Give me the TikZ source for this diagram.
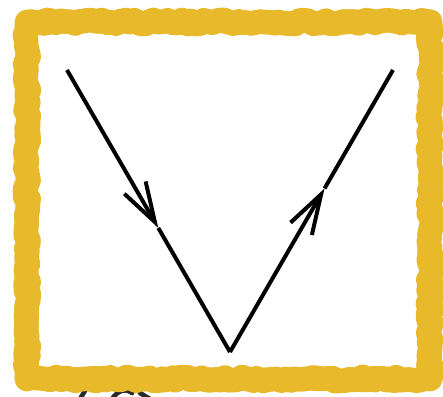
\documentclass[tikz,border=0pt]{standalone}
\usepackage{tikz}
\usetikzlibrary{arrows.meta}
\usetikzlibrary{calc}
\usetikzlibrary{decorations.pathmorphing}
\definecolor{framecolor}{HTML}{E8B92A}
\definecolor{inkcolor}{HTML}{2A2A2A}

\begin{document}
\begin{tikzpicture}[
            x=0.03cm, y=-0.03cm,
            line/.style={line width=3.4pt, line cap=butt},
            barb/.style={-{Straight Barb[length=34pt, width=21pt, line width=3.4pt]}},
            rough frame/.style={draw=framecolor, line width=21pt, line join=round,
                                decorate, decoration={random steps, segment length=4pt, amplitude=1.8pt}},
        ]

        \useasboundingbox (0,0) rectangle (443,397);

        % Partly hidden strokes below the frame
        \draw[inkcolor, line width=4pt, line cap=round] (80,399) -- (86,389);
        \draw[inkcolor, line width=4pt, line cap=round] (112,399) .. controls (118,390) and (126,388) .. (132,393);
        \draw[inkcolor, line width=4pt, line cap=round] (140,393) -- (150,399);

        % Yellow frame
        \pgfmathsetseed{7}
        \draw[rough frame] (27,22) -- (430,22) -- (430,379) -- (27,379) -- cycle;
        \pgfmathsetseed{19}
        \draw[rough frame, line width=17pt] (25,24) -- (432,20) -- (428,381) -- (29,377) -- cycle;

        % Points of the V
        \coordinate (top_left) at (67,70);
        \coordinate (bottom) at (230,352);
        \coordinate (top_right) at (393,70);
        \coordinate (mid_left) at ($(top_left)!0.56!(bottom)$);
        \coordinate (mid_right) at ($(bottom)!0.58!(top_right)$);

        % Left branch, arrow pointing down
        \draw[line, barb] (top_left) -- (mid_left);
        \draw[line] (mid_left) -- (bottom);

        % Right branch, arrow pointing up
        \draw[line, barb] (bottom) -- (mid_right);
        \draw[line] (mid_right) -- (top_right);

        \end{tikzpicture}
\end{document}
